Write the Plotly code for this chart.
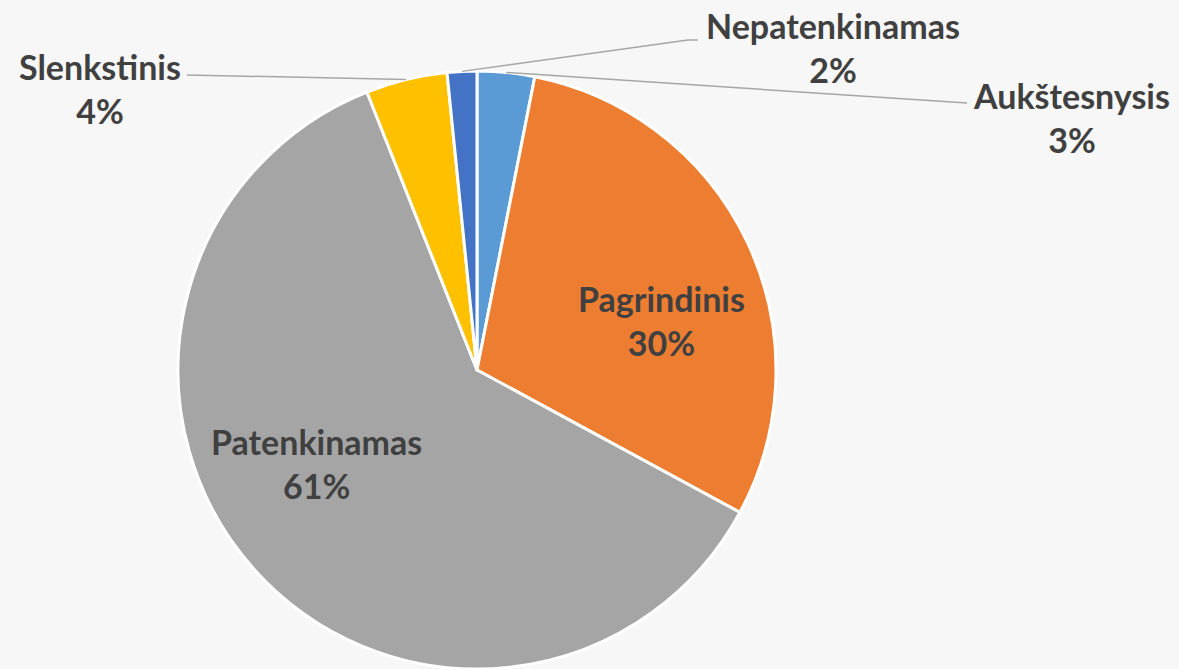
import math
import plotly.graph_objects as go

categories = ["Aukštesnysis", "Pagrindinis", "Patenkinamas", "Slenkstinis", "Nepatenkinamas"]
values = [3.1, 29.8, 61.1, 4.4, 1.6]
colors = ["#5b9bd5", "#ed7d31", "#a5a5a5", "#ffc000", "#4472c4"]

W, H = 1179, 669
CX, CY, R = 477, 370, 299  # pie centre / radius in pixels

total = sum(values)
pcts = [math.floor(v / total * 100 + 0.5 + 1e-9) for v in values]

fig = go.Figure(go.Pie(
    labels=categories, values=values, sort=False, direction="clockwise", rotation=0,
    marker=dict(colors=colors, line=dict(color="white", width=3)),
    textinfo="none", hoverinfo="label+percent",
    domain=dict(x=[(CX - R) / W, (CX + R) / W], y=[(H - CY - R) / H, (H - CY + R) / H]),
    showlegend=False,
))

def px(x, y):
    return x / W, 1 - y / H

# label positions (pixel centres) per category
label_pos = {
    "Aukštesnysis": (1071, 117),
    "Pagrindinis": (661, 320),
    "Patenkinamas": (316, 463),
    "Slenkstinis": (100, 88),
    "Nepatenkinamas": (833, 47),
}
# leader line end points (pixel) for outside labels
leader = {
    "Aukštesnysis": [(967, 103)],
    "Slenkstinis": [(187, 75)],
    "Nepatenkinamas": [(688, 40), (698, 40)],
}

cum = 0.0
shapes = []
annotations = []
for cat, v, p in zip(categories, values, pcts):
    mid = (cum + v / 2) / total * 2 * math.pi
    cum += v
    ax = CX + R * math.sin(mid)
    ay = CY - R * math.cos(mid)
    if cat in leader:
        pts = [(ax, ay)] + leader[cat]
        path = "M " + " L ".join("%f,%f" % px(x, y) for x, y in pts)
        shapes.append(dict(type="path", xref="paper", yref="paper", path=path,
                           line=dict(color="#a6a6a6", width=1.5)))
    lx, ly = label_pos[cat]
    x, y = px(lx, ly)
    annotations.append(dict(
        x=x, y=y, xref="paper", yref="paper", xanchor="center", yanchor="middle",
        text="<b>%s</b><br><b>%d%%</b>" % (cat, p), showarrow=False,
        font=dict(family="Lato", size=34, color="#404040"), align="center",
    ))

fig.update_layout(
    width=W, height=H, margin=dict(l=0, r=0, t=0, b=0),
    paper_bgcolor="#f7f7f7", plot_bgcolor="#f7f7f7",
    shapes=shapes, annotations=annotations,
)
fig.write_html("out.html", config={"displayModeBar": False},
               post_script="document.body.style.margin='0';document.body.style.background='#f7f7f7';")
